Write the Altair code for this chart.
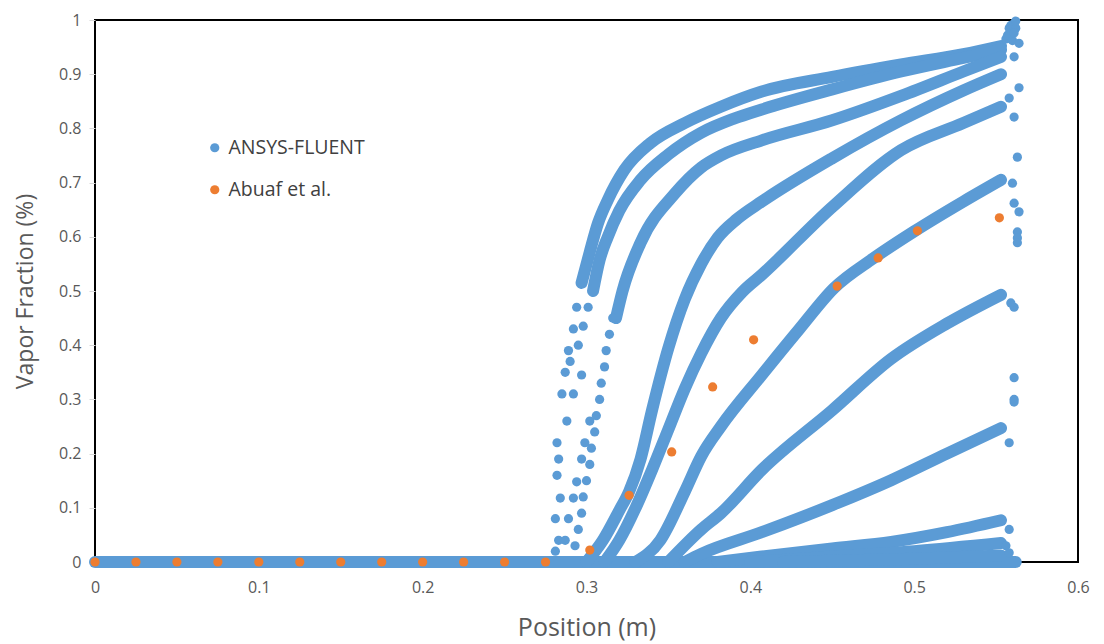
import altair as alt
import pandas as pd

BLUE = "#5B9BD5"
ORANGE = "#ED7D31"
FONT = "Open Sans"

# ---------------- Abuaf et al. (experiment) ----------------
abuaf_x = [0.0, 0.025, 0.05, 0.075, 0.1, 0.125, 0.15, 0.175, 0.2, 0.225, 0.25, 0.275,
           0.302, 0.326, 0.352, 0.377, 0.402, 0.453, 0.478, 0.502, 0.552]
abuaf_y = [0, 0, 0, 0, 0, 0, 0, 0, 0, 0, 0, 0,
           0.022, 0.123, 0.203, 0.323, 0.41, 0.509, 0.561, 0.611, 0.635]

# ---------------- ANSYS-FLUENT dense bands ----------------
base_x = [0.0, 0.14, 0.28, 0.42, 0.562]
base_y = [0.0, 0.0, 0.0, 0.0, 0.0]

b1_x = [0.297, 0.302, 0.307, 0.313, 0.323, 0.339, 0.360, 0.382, 0.407, 0.450, 0.492, 0.530, 0.553]
b1_y = [0.515, 0.572, 0.625, 0.668, 0.723, 0.773, 0.810, 0.840, 0.868, 0.895, 0.918, 0.937, 0.952]

b2_x = [0.304, 0.308, 0.313, 0.320, 0.333, 0.350, 0.370, 0.390, 0.407, 0.450, 0.492, 0.530, 0.553]
b2_y = [0.500, 0.557, 0.600, 0.648, 0.705, 0.752, 0.792, 0.818, 0.835, 0.872, 0.905, 0.930, 0.945]

b3_x = [0.318, 0.322, 0.333, 0.354, 0.370, 0.382, 0.407, 0.450, 0.492, 0.530, 0.553]
b3_y = [0.450, 0.500, 0.589, 0.680, 0.728, 0.750, 0.778, 0.815, 0.860, 0.905, 0.932]

c4_x = [0.300, 0.310, 0.320, 0.326, 0.333, 0.340, 0.350, 0.360, 0.370, 0.380, 0.392, 0.407,
        0.450, 0.492, 0.530, 0.553]
c4_y = [0.000, 0.040, 0.095, 0.130, 0.190, 0.280, 0.395, 0.485, 0.550, 0.598, 0.633, 0.665,
        0.745, 0.815, 0.870, 0.900]

c5_x = [0.311, 0.320, 0.330, 0.340, 0.350, 0.360, 0.370, 0.382, 0.395, 0.407, 0.450, 0.492,
        0.530, 0.553]
c5_y = [0.000, 0.040, 0.100, 0.170, 0.245, 0.320, 0.385, 0.450, 0.498, 0.530, 0.655, 0.760,
        0.810, 0.840]

c6_x = [0.330, 0.345, 0.360, 0.370, 0.382, 0.407, 0.430, 0.451, 0.475, 0.500, 0.530, 0.553]
c6_y = [0.000, 0.040, 0.130, 0.195, 0.250, 0.345, 0.430, 0.505, 0.560, 0.610, 0.665, 0.705]

c7_x = [0.350, 0.370, 0.382, 0.407, 0.450, 0.486, 0.520, 0.553]
c7_y = [0.000, 0.060, 0.090, 0.170, 0.280, 0.375, 0.440, 0.493]

c8_x = [0.360, 0.370, 0.407, 0.450, 0.486, 0.520, 0.553]
c8_y = [0.000, 0.015, 0.055, 0.105, 0.151, 0.200, 0.247]

c9_x = [0.380, 0.407, 0.450, 0.486, 0.520, 0.553]
c9_y = [0.000, 0.010, 0.025, 0.037, 0.055, 0.077]

c10_x = [0.400, 0.450, 0.500, 0.553]
c10_y = [0.000, 0.010, 0.020, 0.035]

c11_x = [0.420, 0.500, 0.553]
c11_y = [0.000, 0.006, 0.012]

# ---------------- ANSYS-FLUENT discrete markers ----------------
col1_x = [0.281, 0.283, 0.281, 0.284, 0.282, 0.283, 0.282, 0.288, 0.285, 0.287, 0.290,
          0.289, 0.292, 0.294]
col1_y = [0.020, 0.040, 0.080, 0.118, 0.160, 0.190, 0.220, 0.260, 0.310, 0.350, 0.370,
          0.390, 0.430, 0.470]

col2_x = [0.287, 0.289, 0.292, 0.294, 0.297, 0.299, 0.302, 0.292, 0.297, 0.295, 0.298, 0.301]
col2_y = [0.040, 0.080, 0.118, 0.148, 0.190, 0.220, 0.260, 0.310, 0.345, 0.400, 0.435, 0.470]

col3_x = [0.293, 0.295, 0.297, 0.298, 0.300, 0.302, 0.303, 0.305, 0.306, 0.308, 0.309,
          0.311, 0.312, 0.314, 0.316]
col3_y = [0.030, 0.060, 0.090, 0.120, 0.150, 0.180, 0.210, 0.240, 0.270, 0.300, 0.330,
          0.360, 0.390, 0.420, 0.450]

end_x = [0.556, 0.557, 0.558, 0.560, 0.561, 0.559, 0.562, 0.562, 0.561, 0.564, 0.561,
         0.564, 0.558, 0.561, 0.563, 0.560, 0.561, 0.564, 0.563, 0.563, 0.563, 0.561,
         0.559, 0.561, 0.561, 0.561, 0.558, 0.558, 0.556, 0.558]
end_y = [0.965, 0.972, 0.985, 0.962, 0.994, 0.990, 0.985, 0.998, 0.976, 0.957, 0.932,
         0.875, 0.856, 0.821, 0.747, 0.699, 0.662, 0.646, 0.609, 0.598, 0.589, 0.470,
         0.478, 0.340, 0.300, 0.295, 0.220, 0.060, 0.030, 0.017]

# ---------------- build tables ----------------
curves = {
    "base": (base_x, base_y), "b1": (b1_x, b1_y), "b2": (b2_x, b2_y), "b3": (b3_x, b3_y),
    "c4": (c4_x, c4_y), "c5": (c5_x, c5_y), "c6": (c6_x, c6_y), "c7": (c7_x, c7_y),
    "c8": (c8_x, c8_y), "c9": (c9_x, c9_y), "c10": (c10_x, c10_y), "c11": (c11_x, c11_y),
}
line_rows = []
for name, (xs, ys) in curves.items():
    for i, (xv, yv) in enumerate(zip(xs, ys)):
        line_rows.append({"curve": name, "i": i, "x": xv, "y": yv})
df_lines = pd.DataFrame(line_rows)

pt_rows = []
for xs, ys in [(col1_x, col1_y), (col2_x, col2_y), (col3_x, col3_y), (end_x, end_y)]:
    for xv, yv in zip(xs, ys):
        pt_rows.append({"series": "ANSYS-FLUENT", "x": xv, "y": yv})
for xv, yv in zip(abuaf_x, abuaf_y):
    pt_rows.append({"series": "Abuaf et al.", "x": xv, "y": yv})
df_pts = pd.DataFrame(pt_rows)

x_ticks = [0, 0.1, 0.2, 0.3, 0.4, 0.5, 0.6]
y_ticks = [0, 0.1, 0.2, 0.3, 0.4, 0.5, 0.6, 0.7, 0.8, 0.9, 1.0]

x_enc = alt.X("x:Q", scale=alt.Scale(domain=[0, 0.6], nice=False, zero=False),
              axis=alt.Axis(values=x_ticks, format="~g", ticks=False, domain=False, grid=False,
                            labelFlush=False, labelFont=FONT, labelFontSize=16,
                            labelColor="#595959", labelPadding=17,
                            title="Position (m)", titleFont=FONT, titleFontSize=25,
                            titleFontWeight="normal", titleColor="#595959", titlePadding=20))
y_enc = alt.Y("y:Q", scale=alt.Scale(domain=[0, 1], nice=False),
              axis=alt.Axis(values=y_ticks, format="~g", ticks=True, tickSize=6, tickColor="#D9D9D9",
                            domain=False, grid=False, labelFlush=False, labelFont=FONT,
                            labelFontSize=16, labelColor="#595959", labelPadding=8,
                            title="Vapor Fraction (%)", titleFont=FONT, titleFontSize=23,
                            titleFontWeight="normal", titleColor="#595959", titlePadding=21))

lines = alt.Chart(df_lines).mark_line(
    strokeWidth=12, strokeCap="round", strokeJoin="round", color=BLUE, interpolate="monotone"
).encode(x=x_enc, y=y_enc, detail="curve:N", order="i:Q")

points = alt.Chart(df_pts).mark_circle(size=85, opacity=1).encode(
    x=x_enc, y=y_enc,
    color=alt.Color("series:N",
                    scale=alt.Scale(domain=["ANSYS-FLUENT", "Abuaf et al."], range=[BLUE, ORANGE]),
                    legend=alt.Legend(orient="none", legendX=110, legendY=118, title=None,
                                      labelFont=FONT, labelFontSize=19.5, labelColor="#404040",
                                      symbolType="circle", symbolSize=85, symbolStrokeWidth=0,
                                      rowPadding=21, labelOffset=4, padding=0)),
)

chart = alt.layer(lines, points).properties(
    width=983, height=542,
    padding={"left": 95, "top": 20, "right": 26, "bottom": 82},
    autosize=alt.AutoSizeParams(type="none"),
    background="white",
).configure_view(stroke="black", strokeWidth=2)

chart.save("out.html", embed_options={"renderer": "svg", "actions": False})
